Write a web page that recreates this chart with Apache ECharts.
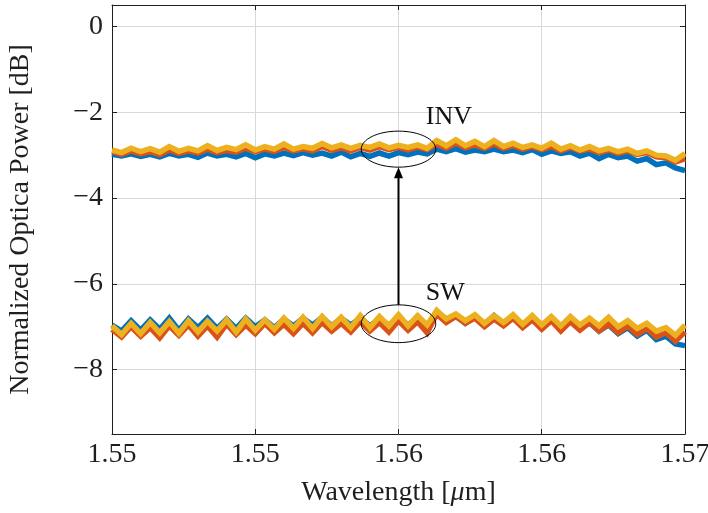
<!DOCTYPE html>
<html>
<head>
<meta charset="utf-8">
<script src="https://cdn.jsdelivr.net/npm/echarts@6/dist/echarts.min.js"></script>
<style>
html,body{margin:0;padding:0;background:#fff;}
#chart{width:708px;height:513px;}
</style>
</head>
<body>
<div id="chart"></div>
<script>
// ---- axis setup ----
const X_MIN = 1.55, X_MAX = 1.57, X_STEP = 0.005;
const xTickLabels = ['1.55', '1.55', '1.56', '1.56', '1.57'];
const Y_MIN = -9.5, Y_MAX = 0.5;
const yTickValues = [-8, -6, -4, -2, 0];
const yTickLabels = ['\u22128', '\u22126', '\u22124', '\u22122', '0'];

// wavelength sample grid (61 samples, 1.55 .. 1.57 µm)
const N_SAMPLES = 61;
const wavelengths = [];
for (let i = 0; i < N_SAMPLES; i++) wavelengths.push(X_MIN + i * (X_MAX - X_MIN) / (N_SAMPLES - 1));

// ---- INV group ----
const invBlue = [
  -2.98,-3.02,-2.97,-3.03,-2.98,-3.04,-2.96,-3.02,-2.98,-3.05,
  -2.95,-3.02,-2.98,-3.04,-2.96,-3.06,-2.97,-3.02,-2.95,-3.01,
  -2.94,-3.00,-2.95,-3.02,-2.93,-3.04,-2.96,-3.03,-2.95,-3.02,
  -2.94,-2.99,-2.93,-2.97,-2.86,-2.92,-2.85,-2.93,-2.88,-2.92,
  -2.86,-2.92,-2.88,-2.94,-2.87,-2.98,-2.90,-2.96,-2.92,-3.02,
  -2.95,-3.08,-2.98,-3.06,-3.02,-3.14,-3.08,-3.22,-3.18,-3.30,-3.36
];
const invOrange = [
  -2.92,-2.98,-2.90,-2.97,-2.92,-2.99,-2.88,-2.96,-2.90,-2.95,
  -2.86,-2.94,-2.89,-2.93,-2.84,-2.92,-2.86,-2.91,-2.82,-2.90,
  -2.85,-2.90,-2.80,-2.89,-2.83,-2.90,-2.82,-2.88,-2.80,-2.87,
  -2.82,-2.88,-2.81,-2.87,-2.74,-2.84,-2.72,-2.83,-2.76,-2.84,
  -2.74,-2.84,-2.78,-2.86,-2.80,-2.87,-2.80,-2.90,-2.82,-2.90,
  -2.86,-2.94,-2.88,-2.96,-2.90,-2.98,-2.94,-3.04,-3.06,-3.16,-3.08
];
const invYellow = [
  -2.88,-2.94,-2.84,-2.92,-2.85,-2.93,-2.80,-2.91,-2.84,-2.90,
  -2.78,-2.89,-2.82,-2.87,-2.76,-2.88,-2.80,-2.86,-2.74,-2.86,
  -2.80,-2.84,-2.73,-2.83,-2.76,-2.84,-2.77,-2.82,-2.74,-2.83,
  -2.77,-2.82,-2.76,-2.84,-2.66,-2.78,-2.64,-2.78,-2.68,-2.80,
  -2.66,-2.80,-2.72,-2.82,-2.76,-2.84,-2.72,-2.86,-2.78,-2.88,
  -2.80,-2.90,-2.84,-2.92,-2.86,-2.96,-2.90,-3.00,-3.02,-3.12,-2.96
];

// ---- SW group ----
const swBlue = [
  -6.96,-7.10,-6.86,-7.08,-6.84,-7.06,-6.80,-7.08,-6.82,-7.02,
  -6.80,-7.04,-6.82,-7.04,-6.80,-7.00,-6.84,-7.02,-6.82,-6.98,
  -6.80,-6.96,-6.78,-6.98,-6.80,-6.96,-6.80,-6.98,-6.82,-6.96,
  -6.78,-6.96,-6.80,-6.98,-6.72,-6.86,-6.74,-6.92,-6.76,-6.94,
  -6.74,-6.92,-6.78,-6.96,-6.80,-6.98,-6.82,-7.02,-6.84,-7.06,
  -6.90,-7.10,-6.96,-7.16,-7.02,-7.22,-7.08,-7.30,-7.22,-7.40,-7.44
];
const swOrange = [
  -7.06,-7.24,-7.00,-7.22,-7.02,-7.26,-6.98,-7.20,-6.96,-7.22,
  -6.98,-7.24,-6.94,-7.18,-6.96,-7.16,-6.92,-7.14,-6.94,-7.16,
  -6.92,-7.14,-6.90,-7.10,-6.92,-7.12,-6.88,-7.10,-6.90,-7.12,
  -6.86,-7.08,-6.88,-7.14,-6.70,-6.90,-6.76,-6.92,-6.80,-7.00,
  -6.82,-6.98,-6.80,-7.02,-6.84,-7.06,-6.86,-7.10,-6.88,-7.08,
  -6.90,-7.10,-6.94,-7.14,-6.98,-7.18,-7.04,-7.24,-7.14,-7.34,-7.12
];
const swYellow = [
  -6.98,-7.18,-6.92,-7.16,-6.90,-7.14,-6.88,-7.15,-6.86,-7.12,
  -6.87,-7.10,-6.84,-7.12,-6.82,-7.08,-6.84,-7.06,-6.80,-7.04,
  -6.78,-7.04,-6.76,-7.00,-6.78,-7.02,-6.74,-7.02,-6.76,-6.98,
  -6.72,-6.98,-6.74,-6.96,-6.62,-6.82,-6.70,-6.86,-6.72,-6.92,
  -6.74,-6.90,-6.72,-6.94,-6.74,-6.96,-6.76,-6.98,-6.76,-6.96,
  -6.80,-6.98,-6.78,-7.00,-6.86,-7.04,-6.92,-7.10,-7.02,-7.20,-6.96
];

// ---- annotations (data units) ----
const ellipses = [
  [1.56, -2.86, 0.0013, 0.42],   // INV ellipse: cx, cy, rx, ry
  [1.56, -6.93, 0.0013, 0.44]    // SW ellipse
];
const arrows = [[1.56, -6.49, 1.56, -3.28]];
const annotationTexts = ['INV', 'SW'];
const annotationPos = [[1.56095, -2.12], [1.56095, -6.21]];

const COLORS = ['#0072BD', '#D95319', '#EDB120'];
const FONT = "'Liberation Serif', 'DejaVu Serif', serif";
const FS = 28;
const TXT = '#1f1f1f';

function pairs(ys) { return ys.map((v, i) => [wavelengths[i], v]); }
function lineSeries(name, ys, color) {
  return {
    name: name, type: 'line', data: pairs(ys), showSymbol: false, symbol: 'none',
    lineStyle: { color: color, width: 5.5, join: 'miter' }, silent: true, z: 3
  };
}

const chart = echarts.init(document.getElementById('chart'), null, { renderer: 'canvas' });

const option = {
  animation: false,
  backgroundColor: '#fff',
  grid: { left: 112, right: 23, top: 5, bottom: 79, containLabel: false, outerBoundsMode: 'none' },
  xAxis: [{
    type: 'value', min: X_MIN, max: X_MAX, interval: X_STEP,
    name: 'Wavelength [{i|\u03bc}m]', nameLocation: 'middle', nameGap: 45,
    nameTextStyle: { fontFamily: FONT, fontSize: FS, color: TXT,
      rich: { i: { fontFamily: FONT, fontSize: FS, fontStyle: 'italic', color: TXT } } },
    axisLine: { show: true, onZero: false, lineStyle: { color: TXT, width: 1 } },
    axisTick: { show: true, inside: true, length: 5, lineStyle: { color: TXT } },
    axisLabel: { fontFamily: FONT, fontSize: FS, color: TXT, margin: 7,
      showMinLabel: true, showMaxLabel: true, hideOverlap: false,
      formatter: function (v) { return xTickLabels[Math.round((v - X_MIN) / X_STEP)]; } },
    splitLine: { show: true, lineStyle: { color: '#d9d9d9', width: 1 } }
  }, {
    type: 'value', min: X_MIN, max: X_MAX, interval: X_STEP, position: 'top',
    axisLine: { show: true, onZero: false, lineStyle: { color: TXT, width: 1 } },
    axisTick: { show: true, inside: true, length: 5, lineStyle: { color: TXT } },
    axisLabel: { show: false }, splitLine: { show: false }
  }],
  yAxis: [{
    type: 'value', min: Y_MIN, max: Y_MAX,
    name: 'Normalized Optica Power [dB]', nameLocation: 'middle', nameGap: 77,
    nameTextStyle: { fontFamily: FONT, fontSize: FS, color: TXT },
    axisLine: { show: true, onZero: false, lineStyle: { color: TXT, width: 1 } },
    axisTick: { show: true, inside: true, length: 5, lineStyle: { color: TXT }, customValues: yTickValues },
    axisLabel: { fontFamily: FONT, fontSize: FS, color: TXT, margin: 9, customValues: yTickValues,
      formatter: function (v) { const k = yTickValues.indexOf(Math.round(v)); return k >= 0 ? yTickLabels[k] : ''; } },
    splitLine: { show: true, lineStyle: { color: '#d9d9d9', width: 1 } }
  }, {
    type: 'value', min: Y_MIN, max: Y_MAX, position: 'right',
    axisLine: { show: true, onZero: false, lineStyle: { color: TXT, width: 1 } },
    axisTick: { show: true, inside: true, length: 5, lineStyle: { color: TXT }, customValues: yTickValues },
    axisLabel: { show: false }, splitLine: { show: false }
  }],
  series: [
    lineSeries('INV 1', invBlue, COLORS[0]),
    lineSeries('SW 1', swBlue, COLORS[0]),
    lineSeries('INV 2', invOrange, COLORS[1]),
    lineSeries('SW 2', swOrange, COLORS[1]),
    lineSeries('INV 3', invYellow, COLORS[2]),
    lineSeries('SW 3', swYellow, COLORS[2]),
    {
      type: 'custom', silent: true, z: 10, clip: false, data: ellipses,
      renderItem: function (params, api) {
        const c = api.coord([api.value(0), api.value(1)]);
        const s = api.size([api.value(2), api.value(3)]);
        return { type: 'ellipse', shape: { cx: c[0], cy: c[1], rx: s[0], ry: s[1] },
          style: { fill: null, stroke: '#000', lineWidth: 1 } };
      }
    },
    {
      type: 'custom', silent: true, z: 10, clip: false, data: arrows,
      renderItem: function (params, api) {
        const a = api.coord([api.value(0), api.value(1)]);
        const b = api.coord([api.value(2), api.value(3)]);
        const hl = 11, hw = 4.5;
        return { type: 'group', children: [
          { type: 'line', shape: { x1: a[0], y1: a[1], x2: b[0], y2: b[1] + hl - 2 },
            style: { stroke: '#000', lineWidth: 2 } },
          { type: 'polygon', shape: { points: [[b[0], b[1]], [b[0] - hw, b[1] + hl], [b[0] + hw, b[1] + hl]] },
            style: { fill: '#000' } }
        ] };
      }
    },
    {
      type: 'custom', silent: true, z: 10, clip: false, data: annotationPos,
      renderItem: function (params, api) {
        const p = api.coord([api.value(0), api.value(1)]);
        return { type: 'text', x: p[0], y: p[1],
          style: { text: annotationTexts[params.dataIndex], fontFamily: FONT, fontSize: FS - 2,
            fill: '#111', align: 'left', verticalAlign: 'middle' } };
      }
    }
  ]
};
chart.setOption(option);
</script>
</body>
</html>
